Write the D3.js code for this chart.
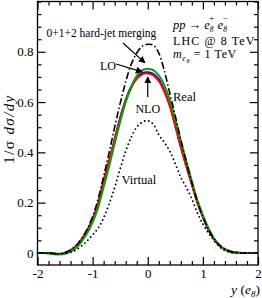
<!DOCTYPE html>
<html>
<head>
<meta charset="utf-8">
<script src="https://cdn.jsdelivr.net/npm/d3@7"></script>
<style>
  body { margin: 0; background: #fff; }
  text { font-family: "Liberation Serif", "Times New Roman", serif; fill: #000; }
</style>
</head>
<body>
<div id="chart"></div>
<script>
// rapidity grid of the curves
const rapidity = [-2.0, -1.9, -1.8, -1.7, -1.6, -1.5, -1.4, -1.3, -1.2, -1.1, -1.0,
                  -0.9, -0.8, -0.7, -0.6, -0.5, -0.4, -0.3, -0.2, -0.1, 0.0,
                  0.1, 0.2, 0.3, 0.4, 0.5, 0.6, 0.7, 0.8, 0.9, 1.0,
                  1.1, 1.2, 1.3, 1.4, 1.5, 1.6, 1.7, 1.8, 1.9, 2.0];

// LO (blue)
const loValues = [0, 0, 0, -0.003, -0.004, 0.000, 0.010, 0.027, 0.053, 0.088, 0.134,
                  0.197, 0.286, 0.367, 0.452, 0.538, 0.609, 0.662, 0.697, 0.715, 0.719,
                  0.712, 0.690, 0.646, 0.588, 0.508, 0.422, 0.346, 0.273, 0.201, 0.143,
                  0.092, 0.055, 0.030, 0.015, 0.006, 0.002, 0, 0, 0, 0];
// NLO (red)
const nloValues = [0, 0, 0, -0.003, -0.004, 0.000, 0.010, 0.027, 0.053, 0.088, 0.133,
                   0.195, 0.285, 0.365, 0.450, 0.535, 0.605, 0.656, 0.692, 0.710, 0.714,
                   0.706, 0.684, 0.642, 0.585, 0.505, 0.420, 0.345, 0.272, 0.200, 0.143,
                   0.092, 0.055, 0.030, 0.015, 0.006, 0.002, 0, 0, 0, 0];
// 0+1+2 hard-jet merging (green)
const mergedValues = [0, 0, -0.002, -0.005, -0.006, -0.003, 0.005, 0.020, 0.045, 0.078, 0.122,
                      0.180, 0.262, 0.345, 0.435, 0.522, 0.600, 0.660, 0.704, 0.727, 0.732,
                      0.727, 0.706, 0.667, 0.610, 0.530, 0.445, 0.365, 0.285, 0.210, 0.150,
                      0.098, 0.058, 0.030, 0.012, 0.003, 0.000, 0, 0, 0, 0];
// Real (dash-dot)
const realValues = [0, 0, 0, -0.002, -0.003, 0.002, 0.012, 0.030, 0.057, 0.095, 0.145,
                    0.215, 0.305, 0.400, 0.500, 0.595, 0.680, 0.750, 0.795, 0.822, 0.830,
                    0.826, 0.795, 0.725, 0.635, 0.545, 0.450, 0.362, 0.280, 0.205, 0.145,
                    0.095, 0.058, 0.032, 0.015, 0.006, 0.002, 0, 0, 0, 0];
// Virtual (dotted)
const virtualValues = [0, 0, 0, -0.002, -0.003, -0.002, 0.002, 0.012, 0.028, 0.048, 0.072,
                       0.098, 0.140, 0.195, 0.260, 0.335, 0.405, 0.460, 0.500, 0.520, 0.526,
                       0.512, 0.470, 0.440, 0.405, 0.355, 0.300, 0.260, 0.215, 0.160, 0.115,
                       0.080, 0.050, 0.025, 0.010, 0.003, 0, 0, 0, 0, 0];

const xTicks = [-2, -1, 0, 1, 2];
const yTicks = [0, 0.2, 0.4, 0.6, 0.8];

const width = 262, height = 298;
const frame = {left: 37.5, right: 258, top: 1.5, bottom: 265};
const serif = '"Liberation Serif", "Times New Roman", serif';

const svg = d3.select('#chart').append('svg')
    .attr('width', width)
    .attr('height', height);

const x = d3.scaleLinear().domain([-2, 2]).range([frame.left, frame.right]);
const y = d3.scaleLinear().domain([-0.048, 1.0]).range([frame.bottom, frame.top]);

const xMinor = d3.range(-2, 2.001, 0.2).map(d => +d.toFixed(1)).filter(d => !xTicks.includes(d));
const yMinor = d3.range(0, 1.001, 0.05).map(d => +d.toFixed(2)).filter(d => !yTicks.includes(d));

// axes, ticks pointing inwards on all four sides
function drawAxis(axis, transform) {
    const g = svg.append('g').attr('transform', transform).call(axis)
        .attr('font-family', serif).attr('font-size', 13);
    g.select('.domain').remove();
    g.selectAll('line').attr('stroke', '#000').attr('stroke-width', 1.2);
    return g;
}
drawAxis(d3.axisBottom(x).tickValues(xTicks).tickSize(-8).tickPadding(4).tickFormat(d => String(d)),
    `translate(0,${frame.bottom})`);
drawAxis(d3.axisBottom(x).tickValues(xMinor).tickSize(-4).tickFormat(''), `translate(0,${frame.bottom})`);
drawAxis(d3.axisTop(x).tickValues(xTicks).tickSize(-8).tickFormat(''), `translate(0,${frame.top})`);
drawAxis(d3.axisTop(x).tickValues(xMinor).tickSize(-4).tickFormat(''), `translate(0,${frame.top})`);
drawAxis(d3.axisLeft(y).tickValues(yTicks).tickSize(-8).tickPadding(4).tickFormat(d => String(d)),
    `translate(${frame.left},0)`);
drawAxis(d3.axisLeft(y).tickValues(yMinor).tickSize(-4).tickFormat(''), `translate(${frame.left},0)`);
drawAxis(d3.axisRight(y).tickValues(yTicks).tickSize(-8).tickFormat(''), `translate(${frame.right},0)`);
drawAxis(d3.axisRight(y).tickValues(yMinor).tickSize(-4).tickFormat(''), `translate(${frame.right},0)`);

svg.append('rect')
    .attr('x', frame.left).attr('y', frame.top)
    .attr('width', frame.right - frame.left).attr('height', frame.bottom - frame.top)
    .attr('fill', 'none').attr('stroke', '#000').attr('stroke-width', 1.3);

// curves
const line = vals => d3.line()
    .x((d, i) => x(rapidity[i]))
    .y(d => y(d))
    .curve(d3.curveCatmullRom)(vals);

const curves = [
    {vals: loValues, color: '#0000ff', width: 2, dash: null},
    {vals: nloValues, color: '#ff0000', width: 2, dash: null},
    {vals: mergedValues, color: '#0a9e0a', width: 2, dash: null},
    {vals: realValues, color: '#000', width: 1.6, dash: '7,2.5,1.5,2.5'},
    {vals: virtualValues, color: '#000', width: 1.9, dash: '0,4.2'}
];
curves.forEach(c => {
    svg.append('path')
        .attr('d', line(c.vals))
        .attr('fill', 'none')
        .attr('stroke', c.color)
        .attr('stroke-width', c.width)
        .attr('stroke-linecap', c.dash === '0,4.2' ? 'round' : 'butt')
        .attr('stroke-dasharray', c.dash);
});

// arrows for the annotations
svg.append('defs').append('marker')
    .attr('id', 'head')
    .attr('viewBox', '0 0 10 10')
    .attr('refX', 9).attr('refY', 5)
    .attr('markerWidth', 7).attr('markerHeight', 7)
    .attr('markerUnits', 'userSpaceOnUse')
    .attr('orient', 'auto')
    .append('path').attr('d', 'M0,0 L10,5 L0,10 z').attr('fill', '#000');

function arrow(x1, y1, x2, y2) {
    svg.append('line')
        .attr('x1', x1).attr('y1', y1).attr('x2', x2).attr('y2', y2)
        .attr('stroke', '#000').attr('stroke-width', 1.2)
        .attr('marker-end', 'url(#head)');
}
arrow(123, 43, x(-0.05), y(0.732) - 6);
arrow(116, 64, x(-0.1), y(0.714) - 1.5);
arrow(x(0), 97, x(0), y(0.714) + 3.5);

function label(txt, px, py, size) {
    return svg.append('text').attr('x', px).attr('y', py).style('font-size', size + 'px').text(txt);
}
label('0+1+2 hard-jet merging', 46.5, 37, 11.5);
label('LO', 100, 69.5, 12);
label('NLO', x(0), 112.5, 12).attr('text-anchor', 'middle');
label('Real', 173, 101, 12.5);
label('Virtual', 121.5, 183.5, 12.5);

// process text, top right
const t1 = svg.append('text').attr('x', 173).attr('y', 29).style('font-size', '12.5px');
t1.append('tspan').style('font-style', 'italic').text('pp');
t1.append('tspan').text(' \u2192 ');
t1.append('tspan').style('font-style', 'italic').text('e');
t1.append('tspan').attr('dy', 3).style('font-size', '7.5px').style('font-style', 'italic').text('8');
t1.append('tspan').attr('dx', -4.2).attr('dy', -11).style('font-size', '9px').text('+');
t1.append('tspan').attr('dy', 8).text(' ');
t1.append('tspan').style('font-style', 'italic').text('e');
t1.append('tspan').attr('dy', 3).style('font-size', '7.5px').style('font-style', 'italic').text('8');
t1.append('tspan').attr('dx', -4.2).attr('dy', -11).style('font-size', '9px').text('\u2212');

label('LHC @ 8 TeV', 173, 44.5, 12).style('letter-spacing', '1.1px');

const t3 = svg.append('text').attr('x', 173).attr('y', 57.5).style('font-size', '12px')
    .style('letter-spacing', '0.6px');
t3.append('tspan').style('font-style', 'italic').text('m');
t3.append('tspan').attr('dy', 3).style('font-size', '8px').style('font-style', 'italic').text('e');
t3.append('tspan').attr('dy', 2).style('font-size', '6px').style('font-style', 'italic').text('8');
t3.append('tspan').attr('dy', -5).text(' = 1 TeV');

// axis titles
const yl = svg.append('text')
    .attr('transform', 'translate(14,129) rotate(-90)')
    .attr('text-anchor', 'middle')
    .style('font-size', '15px')
    .style('letter-spacing', '1.4px');
yl.append('tspan').text('1/\u03c3 ');
yl.append('tspan').style('font-style', 'italic').text('d\u03c3/dy');

const xl = svg.append('text').attr('x', 231).attr('y', 293.5).style('font-size', '13.5px');
xl.append('tspan').style('font-style', 'italic').text('y');
xl.append('tspan').text(' (');
xl.append('tspan').style('font-style', 'italic').text('e');
xl.append('tspan').attr('dy', 3).style('font-size', '9px').style('font-style', 'italic').text('8');
xl.append('tspan').attr('dy', -3).text(')');
</script>
</body>
</html>
